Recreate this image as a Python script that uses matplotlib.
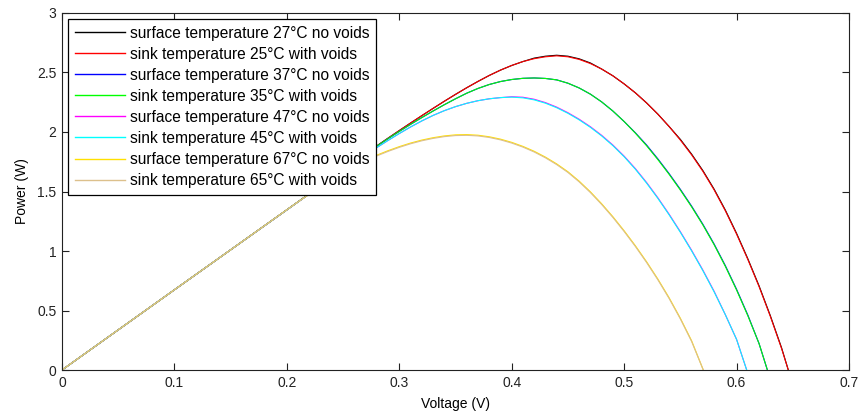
import matplotlib
matplotlib.use("Agg")
import matplotlib.pyplot as plt

plt.rcParams['font.family'] = ['Liberation Sans', 'DejaVu Sans']

# Power-voltage curves (V in volts, P in watts)
v_25 = [0, 0.05, 0.10, 0.15, 0.20, 0.25, 0.26, 0.27, 0.28, 0.29, 0.30, 0.31, 0.32,
        0.33, 0.34, 0.35, 0.36, 0.37, 0.38, 0.39, 0.40, 0.41, 0.42, 0.43, 0.44, 0.45,
        0.46, 0.47, 0.48, 0.49, 0.50, 0.51, 0.52, 0.53, 0.54, 0.55, 0.56, 0.57, 0.58,
        0.59, 0.60, 0.61, 0.62, 0.63, 0.64, 0.646]
p_25_void = [0, 0.337, 0.674, 1.010, 1.346, 1.683, 1.750, 1.817, 1.883, 1.948, 2.012,
             2.075, 2.137, 2.198, 2.258, 2.316, 2.372, 2.425, 2.475, 2.520, 2.559, 2.592,
             2.616, 2.632, 2.640, 2.632, 2.610, 2.575, 2.529, 2.472, 2.404, 2.329, 2.244,
             2.150, 2.046, 1.932, 1.808, 1.670, 1.514, 1.338, 1.142, 0.929, 0.701, 0.451,
             0.181, 0]
p_27_novoid = [0, 0.337, 0.674, 1.010, 1.346, 1.683, 1.750, 1.817, 1.883, 1.948, 2.012,
               2.075, 2.137, 2.198, 2.258, 2.316, 2.372, 2.425, 2.475, 2.520, 2.559, 2.592,
               2.621, 2.637, 2.645, 2.637, 2.615, 2.580, 2.529, 2.472, 2.404, 2.329, 2.244,
               2.150, 2.046, 1.938, 1.814, 1.676, 1.520, 1.344, 1.148, 0.935, 0.707, 0.457,
               0.187, 0]

v_35 = [0, 0.05, 0.10, 0.15, 0.20, 0.25, 0.26, 0.27, 0.28, 0.29, 0.30, 0.31, 0.32,
        0.33, 0.34, 0.35, 0.36, 0.37, 0.38, 0.39, 0.40, 0.41, 0.42, 0.43, 0.44, 0.45,
        0.46, 0.47, 0.48, 0.49, 0.50, 0.51, 0.52, 0.53, 0.54, 0.55, 0.56, 0.57, 0.58,
        0.59, 0.60, 0.61, 0.62, 0.6274]
p_35_void = [0, 0.337, 0.674, 1.010, 1.346, 1.683, 1.750, 1.816, 1.881, 1.944, 2.005,
             2.064, 2.121, 2.176, 2.229, 2.279, 2.326, 2.366, 2.399, 2.424, 2.441, 2.451,
             2.454, 2.450, 2.438, 2.410, 2.370, 2.318, 2.253, 2.176, 2.088, 1.990, 1.884,
             1.768, 1.644, 1.512, 1.371, 1.219, 1.053, 0.871, 0.672, 0.456, 0.222, 0]
p_37_novoid = [0, 0.337, 0.674, 1.010, 1.346, 1.683, 1.750, 1.816, 1.881, 1.944, 2.005,
               2.064, 2.121, 2.176, 2.229, 2.279, 2.326, 2.366, 2.399, 2.424, 2.441, 2.451,
               2.454, 2.450, 2.438, 2.410, 2.370, 2.318, 2.253, 2.176, 2.088, 1.993, 1.890,
               1.774, 1.650, 1.518, 1.377, 1.225, 1.059, 0.877, 0.678, 0.462, 0.222, 0]

v_45 = [0, 0.05, 0.10, 0.15, 0.20, 0.25, 0.26, 0.27, 0.28, 0.29, 0.30, 0.31, 0.32,
        0.33, 0.34, 0.35, 0.36, 0.37, 0.38, 0.39, 0.40, 0.41, 0.42, 0.43, 0.44, 0.45,
        0.46, 0.47, 0.48, 0.49, 0.50, 0.51, 0.52, 0.53, 0.54, 0.55, 0.56, 0.57, 0.58,
        0.59, 0.60, 0.609]
p_45_void = [0, 0.337, 0.674, 1.010, 1.345, 1.680, 1.745, 1.808, 1.869, 1.929, 1.987,
             2.042, 2.093, 2.139, 2.179, 2.213, 2.241, 2.263, 2.279, 2.289, 2.293, 2.287,
             2.270, 2.242, 2.204, 2.157, 2.102, 2.039, 1.967, 1.885, 1.792, 1.687, 1.570,
             1.442, 1.304, 1.157, 1.001, 0.835, 0.657, 0.465, 0.257, 0]
p_47_novoid = [0, 0.337, 0.674, 1.010, 1.345, 1.680, 1.745, 1.808, 1.869, 1.929, 1.987,
               2.042, 2.093, 2.139, 2.179, 2.213, 2.241, 2.263, 2.279, 2.289, 2.296, 2.292,
               2.275, 2.247, 2.209, 2.162, 2.107, 2.044, 1.972, 1.890, 1.797, 1.692, 1.575,
               1.447, 1.309, 1.162, 1.006, 0.840, 0.662, 0.465, 0.257, 0]

v_65 = [0, 0.05, 0.10, 0.15, 0.20, 0.21, 0.22, 0.23, 0.24, 0.25, 0.26, 0.27, 0.28,
        0.29, 0.30, 0.31, 0.32, 0.33, 0.34, 0.35, 0.36, 0.37, 0.38, 0.39, 0.40, 0.41,
        0.42, 0.43, 0.44, 0.45, 0.46, 0.47, 0.48, 0.49, 0.50, 0.51, 0.52, 0.53, 0.54,
        0.55, 0.56, 0.5704]
p_65_void = [0, 0.337, 0.674, 1.010, 1.346, 1.413, 1.478, 1.541, 1.600, 1.656, 1.708,
             1.756, 1.799, 1.837, 1.871, 1.901, 1.926, 1.946, 1.961, 1.970, 1.972, 1.967,
             1.954, 1.934, 1.907, 1.873, 1.832, 1.783, 1.726, 1.660, 1.581, 1.491, 1.391,
             1.282, 1.164, 1.038, 0.903, 0.758, 0.601, 0.429, 0.240, 0]
p_67_novoid = [0, 0.337, 0.674, 1.010, 1.346, 1.413, 1.478, 1.541, 1.600, 1.656, 1.708,
               1.756, 1.805, 1.843, 1.877, 1.907, 1.932, 1.952, 1.967, 1.976, 1.978, 1.973,
               1.960, 1.940, 1.913, 1.879, 1.838, 1.789, 1.732, 1.666, 1.587, 1.497, 1.397,
               1.288, 1.170, 1.044, 0.909, 0.764, 0.607, 0.435, 0.246, 0]

series = [
    (v_25, p_27_novoid, 'surface temperature 27°C no voids', '#000000'),
    (v_25, p_25_void, 'sink temperature 25°C with voids', '#ff0000'),
    (v_35, p_37_novoid, 'surface temperature 37°C no voids', '#0000ff'),
    (v_35, p_35_void, 'sink temperature 35°C with voids', '#00ff00'),
    (v_45, p_47_novoid, 'surface temperature 47°C no voids', '#ff00ff'),
    (v_45, p_45_void, 'sink temperature 45°C with voids', '#00ffff'),
    (v_65, p_67_novoid, 'surface temperature 67°C no voids', '#ffe000'),
    (v_65, p_65_void, 'sink temperature 65°C with voids', '#dcc08c'),
]

x_ticks = [0, 0.1, 0.2, 0.3, 0.4, 0.5, 0.6, 0.7]
y_ticks = [0, 0.5, 1, 1.5, 2, 2.5, 3]

fig = plt.figure(figsize=(8.63, 4.19), dpi=100)
ax = fig.add_axes([0.0718, 0.1169, 0.9120, 0.8521])

for v, p, label, color in series:
    ax.plot(v, p, color=color, lw=0.8, label=label)

ax.set_xlim(0, 0.7)
ax.set_ylim(0, 3)
ax.set_xticks(x_ticks)
ax.set_xticklabels([f'{t:g}' for t in x_ticks])
ax.set_yticks(y_ticks)
ax.set_yticklabels([f'{t:g}' for t in y_ticks])
ax.tick_params(direction='in', length=5, width=0.8, top=True, right=True,
               labelsize=10, pad=4, colors='#222222')
for s in ax.spines.values():
    s.set_linewidth(0.8)
    s.set_color('#222222')

ax.set_xlabel('Voltage (V)', fontsize=10, labelpad=5)
ax.set_ylabel('Power (W)', fontsize=10, labelpad=6)

leg = ax.legend(loc='upper left', fontsize=11.2, frameon=True, fancybox=False,
                edgecolor='#000000', framealpha=1, handlelength=3.25,
                labelspacing=0.39, borderpad=0.42, handletextpad=0.3,
                borderaxespad=0.39)
leg.get_frame().set_linewidth(0.9)
for line in leg.get_lines():
    line.set_linewidth(1.0)

fig.savefig('out.png', dpi=100)
